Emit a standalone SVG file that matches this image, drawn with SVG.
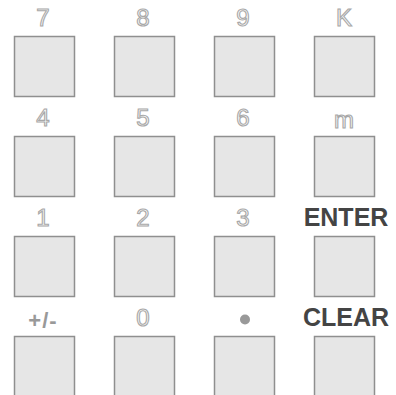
<svg xmlns="http://www.w3.org/2000/svg" width="396" height="395" viewBox="0 0 396 395">
<style>
rect.key{fill:#e6e6e6;stroke:#8f8f8f;stroke-width:1.5}
text{font-family:"Liberation Sans",Arial,sans-serif;text-anchor:middle}
.out{font-size:24px;fill:#fafafa;stroke:#a8a8a8;stroke-width:1.1}
.solid{font-size:22px;font-weight:bold;fill:#999999}
.cmd{font-size:25px;font-weight:bold;fill:#444444}
</style>
<rect width="396" height="395" fill="#ffffff"/>
<g id="key7"><text class="out" x="43" y="26">7</text><rect class="key" x="14.5" y="36.5" width="60" height="60"/></g>
<g id="key8"><text class="out" x="143" y="26">8</text><rect class="key" x="114.5" y="36.5" width="60" height="60"/></g>
<g id="key9"><text class="out" x="243" y="26">9</text><rect class="key" x="214.5" y="36.5" width="60" height="60"/></g>
<g id="keyK"><text class="out" x="344" y="26">K</text><rect class="key" x="314.5" y="36.5" width="60" height="60"/></g>
<g id="key4"><text class="out" x="43" y="126">4</text><rect class="key" x="14.5" y="136.5" width="60" height="60"/></g>
<g id="key5"><text class="out" x="143" y="126">5</text><rect class="key" x="114.5" y="136.5" width="60" height="60"/></g>
<g id="key6"><text class="out" x="243" y="126">6</text><rect class="key" x="214.5" y="136.5" width="60" height="60"/></g>
<g id="keym"><text class="out" x="344" y="128">m</text><rect class="key" x="314.5" y="136.5" width="60" height="60"/></g>
<g id="key1"><text class="out" x="43" y="226">1</text><rect class="key" x="14.5" y="236.5" width="60" height="60"/></g>
<g id="key2"><text class="out" x="143" y="226">2</text><rect class="key" x="114.5" y="236.5" width="60" height="60"/></g>
<g id="key3"><text class="out" x="243" y="226">3</text><rect class="key" x="214.5" y="236.5" width="60" height="60"/></g>
<g id="keyEnter"><text class="cmd" x="346" y="226">ENTER</text><rect class="key" x="314.5" y="236.5" width="60" height="60"/></g>
<g id="keySign"><text class="solid" x="43" y="328" letter-spacing="1">+/-</text><rect class="key" x="14.5" y="336.5" width="60" height="60"/></g>
<g id="key0"><text class="out" x="143" y="326">0</text><rect class="key" x="114.5" y="336.5" width="60" height="60"/></g>
<g id="keyDot"><circle cx="245" cy="319.5" r="5" fill="#999999"/><rect class="key" x="214.5" y="336.5" width="60" height="60"/></g>
<g id="keyClear"><text class="cmd" x="346" y="326">CLEAR</text><rect class="key" x="314.5" y="336.5" width="60" height="60"/></g>
<g id="connectors"/>
</svg>
